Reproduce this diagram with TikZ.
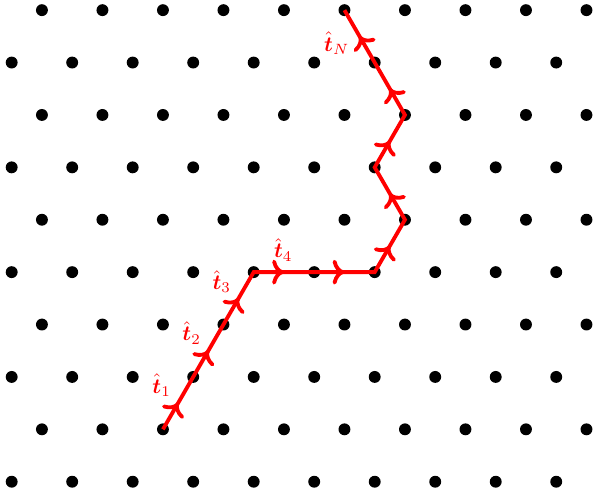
\documentclass[tikz,border=0pt]{standalone}
\usepackage{amsmath}
\usepackage{amssymb}
\usetikzlibrary{
    arrows.meta,
    calc,
    decorations.markings
}

\begin{document}
\begin{tikzpicture}[
    site/.style={fill=black},
    chain/.style={draw=red, line width=1.8pt, line join=miter,
        postaction={decorate},
        decoration={markings,
            mark=between positions 0.05 and 1 step 0.1 with {\arrow[red]{>}}}},
    lbl/.style={text=red, inner sep=0pt}
]

\useasboundingbox (-0.193,-0.303) rectangle (9.641,7.962);

% Lattice
\foreach \r in {0,...,9}
    \foreach \c in {0,...,9}
        \fill[site] ({\c+0.5*mod(\r,2)},{0.866*\r}) circle (2.8pt);

% Chain vertices
\coordinate (v0) at (2.5,0.866);
\coordinate (v1) at (3,1.732);
\coordinate (v2) at (3.5,2.598);
\coordinate (v3) at (4,3.464);
\coordinate (v4) at (5,3.464);
\coordinate (v5) at (6,3.464);
\coordinate (v6) at (6.5,4.330);
\coordinate (v7) at (6,5.196);
\coordinate (v8) at (6.5,6.062);
\coordinate (v9) at (6,6.928);
\coordinate (v10) at (5.5,7.794);

% Chain
\draw[chain] (v0) -- (v1) -- (v2) -- (v3) -- (v4) -- (v5) -- (v6)
    -- (v7) -- (v8) -- (v9) -- (v10);

% Tangent labels
\node[lbl] (t1) at (2.479,1.598) {$\hat{\boldsymbol{t}}_1$};
\node[lbl] (t2) at (2.975,2.458) {$\hat{\boldsymbol{t}}_2$};
\node[lbl] (t3) at (3.471,3.309) {$\hat{\boldsymbol{t}}_3$};
\node[lbl] (t4) at (4.489,3.830) {$\hat{\boldsymbol{t}}_4$};
\node[lbl] (tN) at (5.372,7.246) {$\hat{\boldsymbol{t}}_N$};

\end{tikzpicture}
\end{document}
